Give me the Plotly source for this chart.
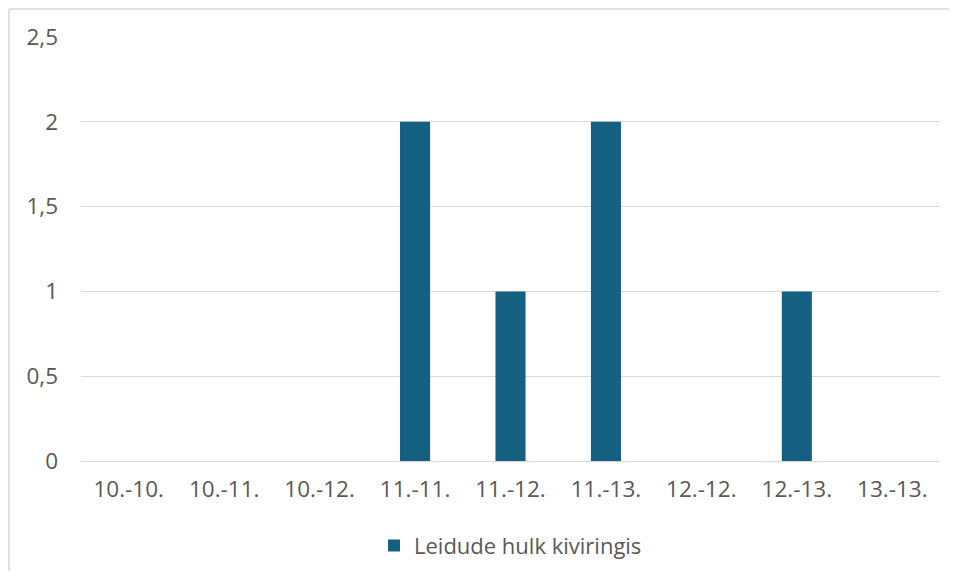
import plotly.graph_objects as go

categories = ["10.-10.", "10.-11.", "10.-12.", "11.-11.", "11.-12.", "11.-13.", "12.-12.", "12.-13.", "13.-13."]
values = [0, 0, 0, 2, 1, 2, 0, 1, 0]
series_name = "Leidude hulk kiviringis"
y_ticks = [0, 0.5, 1, 1.5, 2, 2.5]
y_tick_labels = ["0", "0,5", "1", "1,5", "2", "2,5"]

fig = go.Figure()
fig.add_trace(go.Bar(x=categories, y=values, name=series_name,
                     marker=dict(color="#156082", line=dict(width=0))))

# page body has an 8px margin; figure origin sits at page (8, 8)
W, H = 941, 563
L, R, T, B = 73, 9, 29, 110
pw, ph = W - L - R, H - T - B

fig.update_layout(
    width=W, height=H,
    margin=dict(l=L, r=R, t=T, b=B, autoexpand=False),
    paper_bgcolor="white", plot_bgcolor="white",
    bargap=0.685,
    font=dict(family="Open Sans, Liberation Sans, Arial", size=22, color="#595959"),
    showlegend=True,
    legend=dict(orientation="h", x=0.5, xanchor="center", y=-0.15, yanchor="top",
                font=dict(size=22, color="#595959"), itemwidth=30),
    xaxis=dict(showgrid=False, showline=False, zeroline=False, ticks="",
               tickfont=dict(size=22.5, color="#595959"), ticklabelstandoff=12),
    yaxis=dict(range=[0, 2.5], tickvals=y_ticks, ticktext=y_tick_labels,
               showgrid=True, gridcolor="#d9d9d9", gridwidth=1.3,
               zeroline=True, zerolinecolor="#d9d9d9", zerolinewidth=1.3,
               showline=False, ticks="", ticklabelstandoff=22,
               tickfont=dict(size=22.5, color="#595959")),
    shapes=[
        dict(type="line", xref="paper", yref="paper",
             x0=(1 - L) / pw, x1=(W + 5 - L) / pw, y0=(H - 1 - B) / ph, y1=(H - 1 - B) / ph,
             line=dict(color="#d9d9d9", width=1.5)),
        dict(type="line", xref="paper", yref="paper",
             x0=(1 - L) / pw, x1=(1 - L) / pw, y0=-(B + 5) / ph, y1=(H - 1 - B) / ph,
             line=dict(color="#d9d9d9", width=1.5)),
    ],
)

fig.write_html("out.html")
